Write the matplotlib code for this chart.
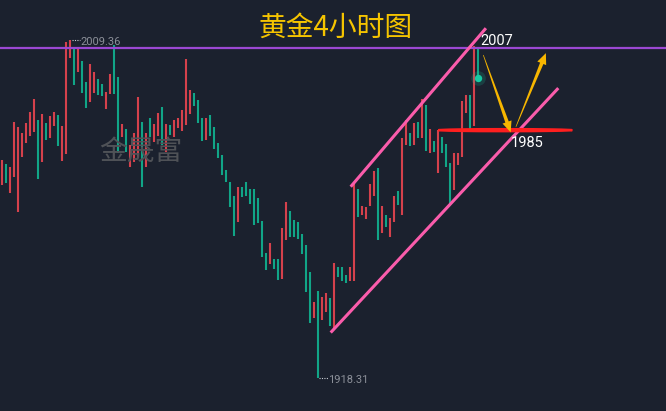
import matplotlib
matplotlib.use("Agg")
import matplotlib.pyplot as plt
import numpy as np
from matplotlib.patches import Ellipse, Polygon

# 4h gold candles, oldest first (high / low per bar)
highs = [
    1976.98, 1975.91, 1975.10, 1987.19, 1985.85, 1984.24, 1986.92, 1989.88, 1993.37, 1987.73,
    1989.34, 1986.92, 1988.81, 1989.88, 1989.07, 1986.12, 2008.69, 2009.36, 2006.81, 2006.81,
    2003.59, 1997.94, 2002.78, 2000.63, 1998.75, 1997.41, 1995.26, 2000.09, 2007.89, 1999.29,
    1986.66, 1985.31, 1981.01, 1984.24, 1993.91, 1987.19, 1984.24, 1988.27, 1986.66, 1989.61,
    1991.22, 1986.66, 1986.39, 1987.73, 1988.27, 1990.42, 2004.12, 1995.79, 1994.99, 1993.11,
    1988.27, 1988.27, 1989.07, 1985.85, 1981.55, 1978.33, 1974.29, 1971.07, 1967.31, 1969.73,
    1969.73, 1971.07, 1969.19, 1969.19, 1966.77, 1960.59, 1951.99, 1954.68, 1950.38, 1950.38,
    1958.71, 1965.69, 1963.28, 1960.86, 1960.32, 1957.09, 1954.14, 1946.88, 1938.82, 1941.78,
    1940.16, 1941.24, 1939.90, 1949.30, 1948.23, 1948.23, 1946.08, 1948.23, 1970.53, 1969.19,
    1964.62, 1964.35, 1970.53, 1974.03, 1974.83, 1964.62, 1962.20, 1961.39, 1967.31, 1968.65,
    1982.89, 1987.73, 1984.24, 1986.92, 1987.19, 1993.37, 1991.76, 1985.31, 1982.09, 1985.04,
    1983.16, 1981.28, 1976.18, 1978.86, 1978.86, 1992.84, 1994.45, 1994.45, 2007.62, 2007.35,
]
lows = [
    1970.26, 1970.80, 1968.11, 1972.41, 1963.01, 1977.79, 1981.55, 1983.43, 1984.51, 1971.88,
    1976.44, 1982.36, 1982.89, 1986.12, 1980.74, 1976.71, 1978.59, 2004.39, 1997.14, 2000.63,
    1994.99, 1990.96, 1992.57, 1994.99, 1994.45, 1994.18, 1990.69, 1994.72, 1994.72, 1978.86,
    1983.16, 1979.13, 1975.10, 1976.44, 1977.52, 1969.73, 1975.10, 1983.16, 1981.82, 1983.43,
    1981.01, 1979.13, 1983.70, 1983.16, 1985.58, 1984.78, 1986.39, 1989.34, 1991.49, 1986.92,
    1982.09, 1982.36, 1983.43, 1979.94, 1977.52, 1972.95, 1971.07, 1964.35, 1956.56, 1960.32,
    1967.04, 1967.31, 1965.16, 1959.51, 1960.05, 1950.91, 1947.42, 1949.03, 1947.69, 1944.73,
    1945.00, 1955.48, 1956.29, 1956.29, 1955.75, 1951.72, 1941.51, 1933.18, 1934.52, 1918.31,
    1933.98, 1936.13, 1932.37, 1931.83, 1945.54, 1944.46, 1943.93, 1944.46, 1944.46, 1961.66,
    1962.20, 1961.13, 1964.62, 1967.31, 1955.48, 1957.36, 1958.98, 1956.29, 1960.32, 1964.89,
    1962.20, 1981.01, 1980.74, 1981.01, 1982.89, 1982.89, 1979.40, 1978.86, 1979.13, 1973.49,
    1978.86, 1975.10, 1965.43, 1968.92, 1975.64, 1977.79, 1989.61, 1984.51, 1986.12, 1999.02,
]
# u = rising bar (red), d = falling bar (green)
direction = (
    "uduuuuuuud" "uduuduuudu" "dduudduudd" "uduuududuu" "duduuuuudd"
    "dudddddddu" "dddddddudd" "uuddddddud" "uududdduud" "uuuududuud"
    "uududududu" "ddduuuudud"
)

title = "黄金4小时图"
watermark = "金晟富"
peak_idx, peak_text = 17, "2009.36"
trough_idx, trough_text = 79, "1918.31"
resistance, resistance_text = 2007.0, "2007"
support, support_text = 1985.0, "1985"
support_span = (109.0, 142.5)  # bar range circled at support

# channel anchors (bar index, price)
channel_upper = [(87.1, 1969.8), (120.9, 2012.4)]
channel_lower = [(82.1, 1930.6), (139.0, 1996.3)]
# projected path: drop to support, then bounce
arrow_down = [(120.25, 2005.2), (127.1, 1984.4)]
arrow_up = [(128.4, 1985.9), (135.9, 2005.7)]

BG = "#1b212e"
UP = "#d5414c"
DOWN = "#11a587"

fig = plt.figure(figsize=(6.66, 4.11), dpi=100, facecolor=BG)
ax = fig.add_axes([0, 0, 1, 1])
ax.set_facecolor(BG)
ax.set_xlim(-0.575, 165.925)
ax.set_ylim(1909.52, 2019.98)
ax.axis("off")

x = np.arange(len(highs))
colors = [UP if d == "u" else DOWN for d in direction]
ax.vlines(x, lows, highs, colors=colors, linewidth=1.5, zorder=2)

# resistance line
ax.axhline(resistance, color="#9b48d3", linewidth=1.6, zorder=3)

# channel
for pts in (channel_upper, channel_lower):
    xs, ys = zip(*pts)
    ax.plot(xs, ys, color="#fa5cab", linewidth=2.2, solid_capstyle="butt", zorder=4)

# support ellipse
ell = Ellipse((sum(support_span) / 2, support), width=support_span[1] - support_span[0],
              height=0.6, fill=False, edgecolor="#ff1f1f", linewidth=1.6, zorder=5)
ax.add_patch(ell)

# high / low markers
num_font = ["Roboto", "DejaVu Sans"]
ax.plot([peak_idx + 0.35, peak_idx + 2.3], [highs[peak_idx]] * 2, color="#c8ccd2",
        linestyle=(0, (1, 1.2)), linewidth=0.8)
ax.text(peak_idx + 2.5, highs[peak_idx] - 0.6, peak_text, color="#8c9099",
        fontsize=8, family=num_font, va="center", ha="left")
ax.plot([trough_idx + 0.1, trough_idx + 2.3], [lows[trough_idx]] * 2, color="#c8ccd2",
        linestyle=(0, (1, 1.2)), linewidth=0.8)
ax.text(trough_idx + 2.5, lows[trough_idx] - 0.5, trough_text, color="#8c9099",
        fontsize=8, family=num_font, va="center", ha="left")

ax.text(119.4, resistance + 0.9, resistance_text, color="white", fontsize=10.5,
        family=num_font, va="baseline", ha="left", zorder=6)
ax.text(127.1, support - 1.6, support_text, color="white", fontsize=10.5,
        family=num_font, va="top", ha="left", zorder=6)

# current price dot
ax.scatter([x[-1]], [lows[-1]], s=110, color="#17c9a2", alpha=0.18, linewidths=0, zorder=6)
ax.scatter([x[-1]], [lows[-1]], s=28, color="#17c9a2", linewidths=0, zorder=7)


def tapered_arrow(start, tip, color="#f7b600", tail_w=0.6, neck_w=3.6, head_w=9.5, head_len=11):
    fig.canvas.draw()
    s = ax.transData.transform(start)
    t = ax.transData.transform(tip)
    u = (t - s) / np.hypot(*(t - s))
    n = np.array([-u[1], u[0]])
    neck = t - head_len * u
    pts = [s + n * tail_w / 2, neck + n * neck_w / 2, neck + n * head_w / 2, t,
           neck - n * head_w / 2, neck - n * neck_w / 2, s - n * tail_w / 2]
    pts = ax.transData.inverted().transform(np.array(pts))
    ax.add_patch(Polygon(pts, closed=True, facecolor=color, edgecolor="none", zorder=8))


tapered_arrow(*arrow_down)
tapered_arrow(*arrow_up)

cjk = ["Noto Sans CJK SC", "DejaVu Sans"]
fig.text(0.5045, 0.932, title, color="#f5c400", fontsize=20, family=cjk,
         ha="center", va="center")
fig.text(0.212, 0.632, watermark, color="#4f5257", fontsize=20, family=cjk,
         ha="center", va="center", zorder=1)

fig.savefig("out.png", dpi=100, facecolor=BG)
